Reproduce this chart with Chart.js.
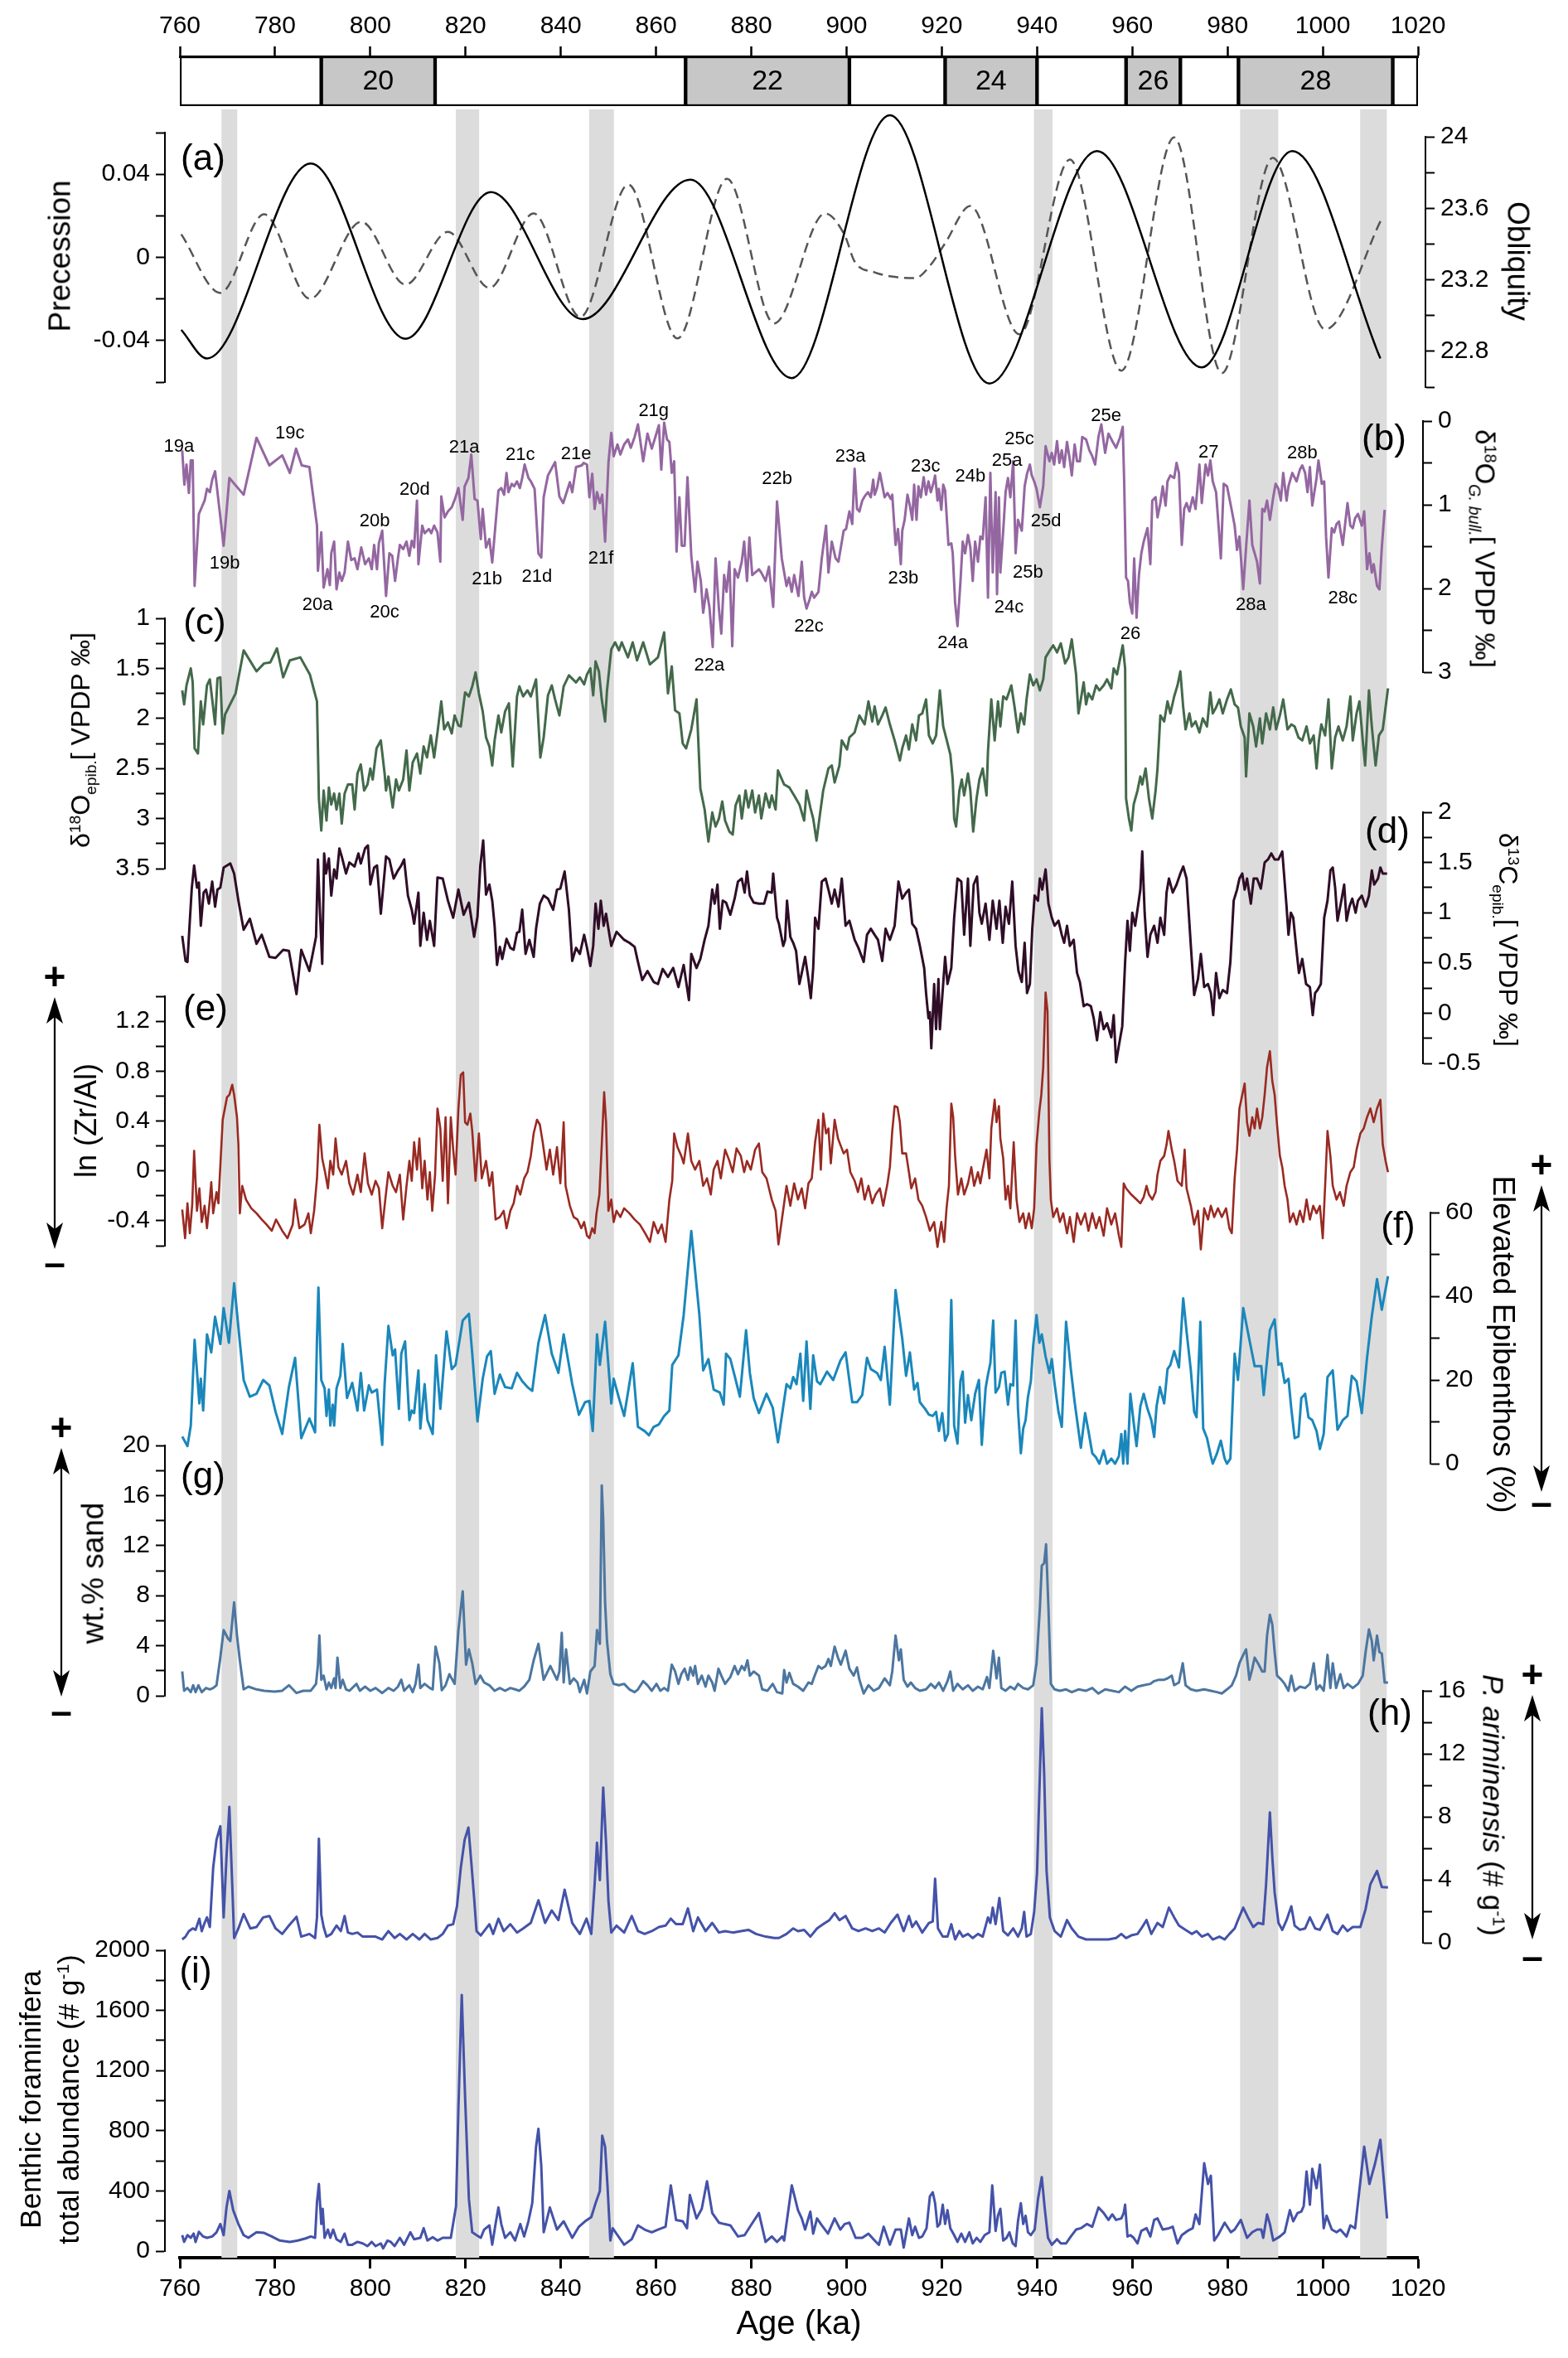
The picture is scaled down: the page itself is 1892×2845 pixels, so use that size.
<!DOCTYPE html>
<html><head><meta charset="utf-8">
<script src="https://cdn.jsdelivr.net/npm/chart.js"></script>
<style>
body{margin:0;background:#fff;}
#wrap{position:relative;width:1892px;height:2845px;overflow:hidden;background:#fff;font-family:'Liberation Sans',Arial,Helvetica,sans-serif;}
.t{position:absolute;white-space:nowrap;color:#000;line-height:1;}
.t sup{font-size:0.6em;vertical-align:0.55em;line-height:0;}
.t sub{font-size:0.6em;vertical-align:-0.4em;line-height:0;}
svg{position:absolute;left:0;top:0;}
</style></head>
<body><div id="wrap"></div>
<script>
// ---------------- DATA ----------------
const ageTicks = [760,780,800,820,840,860,880,900,920,940,960,980,1000,1020];
const ageLabels = ['760','780','800','820','840','860','880','900','920','940','960','980','1000','1020'];
const misStart = [760,789.7,813.6,866.2,900.6,920.7,940.0,958.7,970.1,982.3,1014.7];
const misEnd   = [789.7,813.6,866.2,900.6,920.7,940.0,958.7,970.1,982.3,1014.7,1020];
const misLabel = ['','20','','22','','24','','26','','28',''];
const bandStart = [768.8,818.0,846.0,939.4,982.7,1007.9];
const bandEnd   = [772.0,822.8,851.1,943.2,990.6,1013.4];

const precession = [[760.3,0.0111],[768.5,-0.0171],[777.7,0.0207],[787.3,-0.0199],[798.1,0.0171],[807.4,-0.0131],[816.3,0.0123],[825.0,-0.0147],[834.3,0.0211],[844.1,-0.0287],[854.2,0.0350],[864.5,-0.0390],[874.9,0.0378],[884.8,-0.0318],[895.5,0.0211],[899.6,0.0107],[901.7,-0.002],[905.9,-0.0072],[910.1,-0.0094],[914.4,-0.0100],[917.5,-0.0041],[920.7,0.0068],[926.0,0.0247],[936.3,-0.0370],[946.9,0.0470],[957.7,-0.0545],[968.8,0.0577],[978.8,-0.0557],[989.5,0.0478],[1000.5,-0.0346],[1012.4,0.0187]];
const obliquity = [[760.3,22.92],[765.7,22.76],[787.5,23.85],[807.4,22.87],[825.3,23.69],[844.6,22.98],[867.2,23.76],[888.5,22.65],[909.1,24.12],[930.0,22.62],[952.6,23.92],[974.6,22.71],[993.6,23.92],[1012.1,22.76]];

const seriesB = [[760.5,0.35],[760.95,0.76],[761.4,0.52],[761.9,0.86],[762.3,0.47],[762.7,0.47],[763.1,1.97],[764.0,1.11],[764.6,1.03],[765.2,0.95],[765.7,0.81],[766.3,0.85],[766.8,0.70],[767.4,0.60],[769.2,1.49],[770.4,0.68],[773.4,0.88],[776.1,0.20],[778.8,0.53],[781.5,0.41],[783.1,0.62],[784.4,0.33],[785.6,0.53],[787.2,0.55],[788.8,1.25],[789.0,1.79],[789.7,1.33],[790.2,1.99],[791.0,1.77],[791.5,1.96],[791.8,1.58],[792.4,1.44],[792.9,2.01],[793.5,1.81],[794.0,1.91],[794.6,1.81],[795.3,1.44],[796.0,1.66],[796.7,1.64],[797.3,1.77],[798.1,1.51],[798.9,1.71],[799.7,1.64],[800.3,1.77],[800.8,1.48],[801.4,1.77],[801.8,1.46],[802.5,1.31],[803.3,2.09],[804.0,1.58],[804.6,1.61],[805.2,1.91],[805.8,1.64],[806.2,1.48],[806.9,1.53],[807.6,1.44],[808.2,1.61],[808.7,1.43],[809.2,1.51],[809.8,0.95],[810.1,1.71],[810.9,1.25],[811.4,1.34],[812.3,1.29],[812.8,1.34],[813.4,1.25],[814.1,1.33],[814.7,1.68],[814.9,0.90],[815.6,1.15],[816.3,1.08],[817.1,1.03],[817.9,0.91],[818.5,0.80],[819.4,1.18],[819.8,0.78],[820.6,0.68],[821.2,0.40],[821.9,0.93],[822.5,0.95],[823.2,1.41],[823.6,1.05],[824.3,1.51],[825.0,1.41],[825.6,1.69],[826.9,0.83],[827.5,0.80],[828.1,0.88],[828.6,0.62],[829.0,0.85],[829.7,0.75],[830.2,0.78],[830.8,0.72],[831.4,0.80],[831.9,0.68],[832.4,0.52],[833.2,0.68],[833.7,0.72],[834.5,0.81],[835.3,1.58],[835.9,1.63],[836.4,0.91],[837.3,0.65],[838.8,0.49],[839.7,0.90],[840.5,0.98],[841.9,0.73],[842.4,0.85],[843.2,0.55],[844.4,0.53],[844.8,0.50],[845.5,0.52],[846.0,0.91],[846.6,0.63],[847.1,1.05],[847.6,0.85],[848.2,0.98],[848.7,0.88],[849.3,1.44],[850.0,0.50],[850.6,0.14],[851.1,0.42],[851.9,0.28],[852.5,0.40],[853.3,0.28],[854.1,0.22],[854.7,0.32],[855.5,0.19],[856.2,0.04],[857.3,0.48],[858.2,0.15],[859.1,0.33],[859.8,0.20],[860.6,0.05],[861.1,0.58],[861.7,0.02],[862.3,0.22],[862.8,0.25],[863.3,0.62],[863.8,0.48],[864.3,1.56],[864.9,0.91],[865.4,1.49],[866.0,1.49],[866.6,0.67],[867.4,1.61],[868.2,2.04],[868.7,1.68],[869.4,1.91],[869.9,2.29],[870.6,2.01],[871.2,2.22],[871.9,2.70],[872.5,1.64],[873.2,2.24],[873.7,2.54],[874.3,1.84],[874.8,2.04],[875.4,1.68],[876.0,2.69],[876.5,1.77],[877.2,1.87],[878.0,1.68],[878.5,1.44],[879.1,1.91],[879.6,1.39],[880.2,1.84],[880.8,1.81],[881.6,1.77],[882.1,1.81],[883.0,1.91],[883.7,1.74],[884.6,2.22],[885.4,0.96],[886.4,1.64],[887.4,1.97],[887.9,1.87],[888.5,2.04],[889.0,1.84],[889.9,2.09],[890.6,1.68],[891.1,2.11],[891.6,2.24],[892.2,2.14],[892.7,2.04],[893.2,2.11],[894.1,2.04],[894.8,1.64],[895.7,1.25],[896.2,1.81],[896.9,1.44],[897.7,1.64],[898.3,1.68],[899.4,1.31],[899.9,1.29],[900.6,1.08],[901.2,1.23],[901.7,0.57],[902.2,1.05],[902.7,1.08],[903.3,0.95],[903.8,0.90],[904.5,0.85],[905.1,0.91],[905.6,0.70],[905.9,0.88],[906.4,0.80],[907.0,0.62],[908.0,0.91],[908.6,0.86],[909.3,0.93],[909.6,0.88],[910.3,1.48],[910.8,1.29],[911.4,1.71],[911.7,1.31],[912.2,1.18],[912.8,0.88],[913.3,1.01],[913.8,1.18],[914.2,0.76],[914.7,1.18],[915.1,0.78],[915.6,0.91],[916.2,0.67],[916.7,0.88],[917.2,0.72],[917.7,0.85],[918.2,0.75],[918.6,0.65],[919.1,0.95],[919.4,0.81],[919.9,1.06],[920.3,0.76],[920.7,0.83],[921.4,1.48],[922.0,1.46],[922.3,1.58],[922.8,2.17],[923.3,2.45],[923.9,1.94],[924.4,1.44],[924.9,1.58],[925.5,1.36],[926.0,1.51],[926.5,1.91],[927.0,1.44],[927.6,1.68],[928.1,1.38],[928.6,1.41],[929.2,0.91],[929.7,2.11],[930.2,0.62],[930.7,1.81],[931.3,0.85],[931.6,2.07],[932.0,0.91],[932.3,1.81],[932.9,1.31],[933.4,0.85],[933.9,0.68],[934.4,0.91],[935.0,0.48],[935.5,1.58],[936.0,1.18],[936.8,1.31],[937.4,0.78],[937.9,0.63],[938.5,0.52],[938.9,0.65],[939.4,0.72],[939.9,0.81],[940.6,1.03],[941.3,0.78],[941.8,0.30],[942.6,0.48],[943.1,0.38],[943.6,0.52],[944.2,0.24],[944.7,0.50],[945.2,0.35],[945.7,0.55],[946.3,0.25],[946.8,0.43],[947.3,0.65],[947.9,0.28],[948.4,0.48],[949.0,0.48],[949.5,0.19],[950.3,0.22],[951.0,0.35],[951.6,0.42],[952.2,0.52],[952.9,0.19],[953.5,0.04],[954.3,0.38],[955.0,0.15],[955.9,0.25],[956.6,0.32],[957.4,0.20],[958.0,0.07],[958.3,0.72],[958.7,1.87],[959.1,1.91],[959.5,2.17],[960.0,2.30],[960.4,1.64],[960.9,2.35],[961.4,1.84],[961.9,1.58],[962.4,1.44],[963.2,1.28],[963.8,1.71],[964.2,0.95],[964.9,0.91],[965.3,1.15],[965.9,0.98],[966.4,0.78],[967.0,1.01],[967.4,0.72],[968.0,0.65],[968.8,0.68],[969.3,0.50],[969.8,0.62],[970.4,1.48],[970.9,1.05],[971.4,0.98],[972.0,1.08],[972.7,0.91],[973.3,1.05],[974.1,0.52],[974.6,0.98],[975.1,0.68],[975.4,0.52],[975.9,0.65],[976.4,0.47],[976.9,0.72],[977.6,0.85],[978.2,1.31],[978.6,1.64],[979.2,0.75],[979.9,0.78],[980.7,1.01],[981.5,1.25],[982.0,1.54],[982.5,1.38],[983.3,2.01],[983.9,1.51],[984.6,0.95],[985.2,1.48],[985.7,1.58],[986.2,1.68],[986.8,1.94],[987.3,1.05],[987.8,1.08],[988.3,0.95],[988.9,1.18],[989.6,0.91],[990.1,0.75],[990.7,0.81],[991.2,0.95],[991.7,0.62],[992.4,0.95],[992.8,0.78],[993.6,0.62],[994.5,0.72],[995.2,0.58],[995.7,0.53],[996.3,0.62],[996.8,0.85],[997.3,0.55],[997.8,1.01],[998.7,0.68],[999.1,0.47],[999.8,0.75],[1000.3,0.72],[1000.7,1.38],[1001.2,1.87],[1001.9,1.28],[1002.4,1.33],[1002.9,1.23],[1003.4,1.20],[1004.2,1.48],[1005.2,0.98],[1005.8,1.25],[1006.3,1.28],[1006.8,1.16],[1007.4,1.11],[1008.2,1.25],[1008.7,1.08],[1009.3,1.77],[1009.8,1.58],[1010.3,1.81],[1010.7,1.71],[1011.4,1.97],[1011.9,2.01],[1012.4,1.51],[1013.0,1.06]];

const bPeakNames = ['19a','19b','19c','20a','20b','20c','20d','21a','21b','21c','21d','21e','21f','21g','22a','22b','22c','23a','23b','23c','24a','24b','24c','25a','25b','25c','25d','25e','26','27','28a','28b','28c'];
const bPeakAge = [759.8,769.4,783.1,788.9,800.9,803.0,809.3,819.7,824.5,831.5,835.0,843.2,848.4,859.5,871.2,885.4,892.1,900.8,911.9,916.6,922.3,926.0,934.1,933.7,938.1,936.3,941.9,954.5,959.6,976.0,984.9,995.7,1004.2];
const bPeakVal = [0.31,1.70,0.15,2.20,1.20,2.29,0.82,0.32,1.89,0.41,1.86,0.40,1.64,-0.12,2.92,0.69,2.45,0.43,1.88,0.54,2.65,0.66,2.23,0.47,1.81,0.22,1.20,-0.06,2.54,0.38,2.20,0.39,2.12];

const seriesC = [[760.5,1.72],[760.9,1.86],[761.4,1.67],[762.3,1.50],[762.7,1.64],[763.1,2.30],[763.8,2.35],[764.4,1.83],[764.9,2.06],[765.7,1.67],[766.3,1.61],[766.8,1.81],[767.4,2.06],[767.9,1.60],[768.5,1.59],[769.0,2.15],[769.5,1.96],[771.7,1.75],[773.4,1.32],[776.1,1.53],[777.7,1.45],[779.0,1.44],[780.4,1.30],[781.7,1.59],[783.1,1.42],[785.3,1.39],[787.3,1.56],[788.8,1.83],[789.2,2.80],[789.7,3.12],[790.2,2.72],[790.8,3.02],[791.3,2.69],[791.8,2.86],[792.4,2.75],[792.9,2.91],[793.5,2.75],[794.0,3.05],[794.6,2.75],[795.3,2.66],[796.2,2.66],[796.7,2.91],[797.3,2.55],[798.0,2.46],[798.7,2.72],[799.4,2.66],[800.0,2.50],[800.5,2.61],[801.3,2.30],[802.2,2.22],[803.0,2.55],[803.3,2.72],[803.8,2.58],[804.7,2.89],[805.4,2.61],[806.0,2.72],[806.9,2.61],[807.6,2.32],[808.2,2.72],[808.9,2.44],[809.8,2.35],[810.5,2.55],[811.2,2.28],[811.9,2.39],[812.7,2.17],[813.4,2.39],[814.1,2.14],[814.9,1.83],[815.5,2.11],[816.3,2.04],[817.1,2.15],[817.7,1.97],[818.5,2.07],[819.0,2.08],[819.9,1.74],[820.7,1.78],[821.4,1.68],[822.1,1.54],[822.8,1.75],[823.6,1.93],[824.3,2.19],[825.0,2.28],[825.6,2.47],[826.1,2.22],[826.9,1.97],[827.5,2.14],[828.3,1.93],[829.1,1.85],[829.9,2.48],[830.8,1.78],[831.3,1.68],[832.1,1.78],[833.0,1.72],[833.7,1.78],[834.8,1.61],[835.7,2.39],[836.4,2.19],[837.3,1.77],[838.1,1.67],[838.8,1.81],[839.7,1.97],[840.6,1.68],[841.7,1.57],[843.2,1.64],[844.0,1.59],[844.9,1.66],[845.5,1.56],[846.2,1.50],[846.8,1.77],[847.3,1.43],[848.0,1.53],[848.6,1.81],[849.3,2.03],[849.7,1.72],[850.6,1.31],[851.4,1.24],[852.2,1.32],[852.8,1.24],[854.1,1.39],[855.1,1.24],[856.0,1.42],[857.3,1.24],[858.7,1.46],[860.4,1.39],[861.7,1.14],[862.5,1.75],[863.3,1.48],[864.0,1.92],[864.9,1.95],[865.6,2.25],[866.3,2.30],[867.4,2.11],[868.5,1.81],[869.3,2.70],[870.2,2.91],[871.0,3.23],[871.8,2.94],[872.5,3.08],[873.2,3.00],[873.9,2.83],[874.5,3.02],[875.4,3.13],[876.1,3.16],[876.7,2.87],[877.5,2.77],[878.0,3.00],[878.8,2.72],[879.4,2.89],[880.2,2.72],[880.8,2.94],[881.6,2.77],[882.1,3.00],[883.0,2.75],[883.8,2.89],[884.3,2.77],[885.1,2.91],[885.6,2.52],[886.9,2.66],[888.0,2.69],[889.0,2.77],[890.1,2.86],[891.1,3.02],[891.6,2.72],[892.4,2.89],[893.0,3.00],[893.7,3.22],[894.3,3.00],[895.1,2.72],[896.2,2.50],[896.9,2.47],[897.5,2.64],[898.5,2.47],[899.0,2.22],[900.1,2.31],[900.6,2.19],[901.7,2.14],[902.7,1.97],[903.8,2.06],[904.6,1.83],[905.4,2.03],[905.9,1.88],[906.6,2.06],[907.5,1.97],[908.2,1.89],[909.1,2.06],[910.1,2.22],[911.2,2.42],[911.7,2.30],[912.5,2.17],[913.1,2.31],[913.8,2.06],[914.6,2.22],[915.2,1.97],[915.9,1.95],[916.7,1.81],[917.3,2.17],[918.1,2.25],[918.8,2.17],[919.6,1.72],[920.3,2.08],[920.9,2.19],[921.8,2.36],[922.3,2.61],[922.6,3.00],[923.0,3.08],[923.7,2.72],[924.2,2.61],[924.7,2.77],[925.5,2.55],[926.0,2.72],[926.6,3.13],[927.3,2.80],[927.9,2.61],[928.6,2.50],[929.4,2.77],[929.7,2.33],[930.4,1.81],[931.1,2.22],[931.8,1.83],[932.3,2.08],[932.9,1.78],[933.6,1.81],[934.6,1.67],[935.3,1.89],[936.0,2.14],[936.6,1.95],[937.3,2.06],[937.8,1.81],[938.5,1.56],[939.2,1.67],[939.9,1.61],[940.6,1.72],[941.3,1.61],[941.8,1.39],[942.7,1.32],[943.4,1.27],[944.2,1.34],[945.0,1.25],[945.9,1.45],[946.6,1.39],[947.3,1.21],[948.2,1.56],[948.7,1.95],[949.2,1.81],[949.8,1.64],[950.3,1.86],[950.8,1.75],[951.6,1.81],[952.4,1.67],[953.1,1.72],[954.0,1.67],[954.7,1.61],[955.6,1.70],[956.1,1.50],[956.8,1.56],[957.5,1.39],[958.0,1.27],[958.5,1.50],[958.7,2.80],[959.3,3.00],[959.8,3.12],[960.3,2.86],[961.1,2.72],[961.7,2.58],[962.1,2.66],[962.8,2.50],[963.5,2.80],[964.2,3.00],[964.9,2.72],[965.3,2.50],[965.9,1.97],[966.7,2.03],[967.4,1.83],[968.0,1.95],[968.8,1.78],[969.5,1.67],[970.1,1.53],[970.7,1.89],[971.2,2.11],[972.0,1.95],[972.5,2.08],[973.3,2.03],[974.1,2.14],[974.8,2.00],[975.7,2.08],[976.4,1.74],[976.9,1.95],[977.6,1.89],[978.3,1.81],[979.0,1.95],[979.9,1.81],[980.7,1.71],[981.5,1.86],[982.2,1.89],[982.8,2.08],[983.6,2.19],[983.9,2.58],[984.6,1.95],[985.4,2.08],[986.0,2.28],[986.8,2.00],[987.3,2.25],[988.1,1.95],[988.9,2.11],[989.6,1.89],[990.2,2.11],[991.0,1.97],[991.7,1.81],[992.6,2.11],[993.4,2.06],[994.1,2.08],[994.9,2.19],[995.7,2.22],[996.6,2.08],[997.3,2.25],[998.1,2.17],[998.7,2.50],[999.2,2.22],[999.7,2.06],[1000.5,2.17],[1001.2,1.81],[1001.9,2.50],[1002.6,2.19],[1003.3,2.08],[1004.2,2.22],[1005.0,2.08],[1005.8,1.78],[1006.3,2.22],[1007.1,1.95],[1007.7,1.83],[1008.4,2.22],[1008.9,2.47],[1009.7,1.72],[1010.3,2.08],[1011.1,2.47],[1011.8,2.17],[1012.6,2.11],[1013.7,1.70]];

const seriesD = [[760.5,0.77],[761.2,0.52],[761.6,0.51],[762.0,0.84],[762.5,1.24],[763.0,1.47],[763.6,1.25],[764.0,1.30],[764.4,0.87],[765.0,1.20],[765.5,1.23],[766.1,1.09],[766.8,1.31],[767.4,1.06],[767.9,1.23],[768.5,1.25],[769.2,1.45],[770.6,1.49],[771.4,1.39],[772.3,1.12],[773.4,0.83],[774.7,0.94],[776.1,0.69],[777.2,0.78],[778.8,0.56],[780.1,0.55],[781.7,0.63],[782.9,0.62],[784.5,0.19],[785.5,0.63],[787.2,0.42],[788.6,0.76],[789.0,1.53],[789.4,1.03],[789.9,0.49],[790.3,1.59],[790.7,1.39],[791.3,1.54],[791.8,1.17],[792.4,1.43],[792.9,1.34],[793.5,1.64],[794.0,1.56],[794.9,1.39],[795.6,1.50],[796.7,1.46],[797.5,1.59],[798.0,1.49],[798.9,1.64],[799.5,1.67],[800.0,1.28],[800.8,1.45],[801.4,1.47],[802.2,0.99],[803.3,1.56],[804.0,1.53],[804.9,1.34],[805.8,1.42],[806.5,1.47],[807.1,1.53],[807.9,1.17],[808.7,1.03],[809.2,0.89],[810.1,1.20],[810.5,0.67],[811.2,1.00],[811.9,0.73],[812.5,0.92],[813.4,0.67],[814.1,1.35],[815.2,1.34],[816.3,1.12],[817.4,0.95],[818.5,1.23],[819.6,0.98],[820.7,1.10],[821.8,0.76],[822.5,0.96],[823.1,1.47],[823.7,1.72],[824.3,1.18],[825.0,1.28],[825.6,1.12],[826.1,0.87],[826.6,0.48],[827.2,0.66],[827.7,0.54],[828.6,0.74],[829.4,0.65],[830.1,0.63],[830.8,0.80],[831.3,0.81],[831.9,1.03],[832.6,0.59],[833.4,0.73],[834.3,0.56],[834.8,0.84],[835.6,1.09],[836.4,1.17],[837.3,1.14],[838.4,1.03],[839.2,1.23],[839.9,1.24],[840.8,1.41],[841.7,1.03],[842.4,0.52],[843.2,0.65],[844.0,0.59],[844.9,0.78],[845.5,0.65],[846.2,0.47],[846.8,0.67],[847.3,1.09],[847.9,0.84],[848.4,1.12],[849.0,0.87],[849.5,0.99],[850.0,0.84],[850.6,0.67],[851.7,0.81],[853.3,0.73],[854.4,0.70],[855.5,0.66],[856.2,0.51],[857.1,0.33],[858.2,0.42],[859.5,0.31],[860.4,0.29],[861.4,0.44],[862.5,0.36],[863.6,0.45],[864.7,0.26],[865.8,0.48],[866.9,0.13],[867.4,0.59],[868.5,0.45],[869.3,0.54],[870.2,0.73],[871.0,0.87],[871.8,1.23],[872.3,1.09],[872.9,1.28],[873.4,0.84],[874.0,1.12],[874.7,1.10],[875.6,0.98],[876.5,1.14],[877.2,1.31],[878.0,1.34],[878.6,1.20],[879.1,1.41],[879.7,1.17],[880.5,1.10],[881.6,1.09],[882.7,1.09],[883.4,1.21],[884.3,1.20],[884.6,1.39],[885.4,0.95],[885.8,0.89],[886.7,0.67],[887.1,0.73],[887.5,1.12],[888.2,0.76],[888.8,0.70],[889.4,0.62],[890.1,0.29],[890.6,0.40],[891.3,0.56],[892.0,0.34],[892.5,0.15],[893.0,0.45],[893.4,0.95],[894.1,0.84],[894.8,1.31],[895.6,1.34],[896.2,1.23],[896.9,1.09],[897.5,1.23],[898.3,1.06],[899.0,1.34],[899.8,0.87],[900.6,0.92],[901.7,0.73],[902.5,0.65],[903.6,0.51],[904.3,0.78],[905.1,0.84],[905.9,0.78],[906.6,0.73],[907.5,0.52],[908.2,0.84],[909.1,0.73],[910.1,0.87],[910.9,1.31],[911.7,1.14],[912.5,1.20],[913.1,1.23],[913.8,0.89],[914.6,0.84],[915.4,0.67],[916.3,0.45],[916.7,0.20],[917.2,-0.05],[917.5,0.01],[917.8,-0.35],[918.4,0.29],[918.8,-0.16],[919.3,0.34],[919.6,-0.16],[920.2,0.23],[920.7,0.56],[921.2,0.29],[922.0,0.45],[922.6,0.95],[923.3,1.34],[924.1,1.31],[924.7,0.78],[925.5,1.34],[926.0,0.67],[926.7,1.28],[927.4,1.36],[927.9,1.00],[928.4,0.89],[929.2,1.09],[930.0,0.73],[930.7,1.12],[931.5,0.84],[932.1,1.12],[932.8,0.70],[933.4,1.06],[934.1,0.89],[934.8,1.31],[935.5,0.67],[936.1,0.42],[936.8,0.31],[937.4,0.70],[937.9,0.20],[938.5,0.29],[939.0,0.84],[939.5,1.17],[940.2,1.12],[940.6,1.34],[941.1,1.23],[941.8,1.43],[942.4,1.09],[943.1,0.95],[943.7,0.87],[944.5,0.92],[945.2,0.78],[945.7,0.70],[946.3,0.87],[946.9,0.67],[947.7,0.73],[948.4,0.40],[949.0,0.31],[949.8,0.07],[950.5,0.09],[951.3,0.07],[951.9,-0.05],[952.6,-0.27],[953.3,0.01],[954.0,-0.16],[954.7,-0.10],[955.6,-0.24],[956.1,-0.02],[956.6,-0.49],[957.2,-0.32],[957.9,-0.13],[958.5,0.51],[959.0,0.92],[959.5,0.62],[960.0,1.00],[960.6,0.87],[961.1,1.03],[961.7,1.23],[962.1,1.61],[962.6,1.00],[963.2,0.56],[963.8,0.78],[964.6,0.87],[965.3,0.70],[965.9,0.95],[966.7,0.78],[967.2,1.20],[967.7,1.34],[968.5,1.20],[969.3,1.28],[970.1,1.39],[970.7,1.46],[971.4,1.34],[972.3,0.67],[973.0,0.18],[973.8,0.34],[974.4,0.59],[975.1,0.26],[975.9,0.29],[976.5,0.20],[977.0,-0.02],[977.6,0.40],[978.3,0.15],[979.0,0.23],[979.9,0.20],[980.6,0.51],[981.3,1.12],[982.0,1.23],[982.5,1.34],[983.1,1.39],[983.6,1.23],[984.1,1.34],[984.9,1.09],[985.5,1.34],[986.2,1.34],[987.0,1.24],[987.8,1.50],[988.5,1.53],[989.2,1.59],[989.9,1.53],[990.7,1.53],[991.5,1.61],[992.4,1.06],[992.8,0.78],[993.3,1.00],[993.8,0.95],[994.5,0.62],[995.0,0.40],[995.7,0.54],[996.5,0.29],[997.3,0.26],[997.9,-0.02],[998.4,0.20],[998.9,0.23],[999.6,0.29],[1000.3,0.95],[1001.0,1.12],[1001.6,1.42],[1002.1,1.45],[1002.6,1.25],[1003.1,0.92],[1003.9,1.12],[1004.5,1.28],[1005.0,0.92],[1005.6,1.06],[1006.2,1.14],[1006.9,1.00],[1007.4,1.12],[1008.2,1.17],[1009.0,1.06],[1009.7,1.17],[1010.3,1.42],[1010.8,1.28],[1011.6,1.34],[1012.1,1.45],[1012.6,1.39],[1013.5,1.39]];

const seriesE = [[760.5,-0.31],[761.1,-0.54],[761.6,-0.26],[762.1,-0.50],[762.6,-0.27],[763.0,0.16],[763.6,-0.32],[764.1,-0.14],[764.6,-0.41],[765.2,-0.28],[765.7,-0.46],[766.3,-0.23],[766.6,-0.09],[767.0,-0.34],[767.7,-0.17],[768.1,-0.26],[769.0,0.41],[769.9,0.59],[770.4,0.61],[771.0,0.69],[771.4,0.61],[772.0,0.43],[772.3,0.21],[772.6,-0.34],[773.1,-0.12],[773.9,-0.23],[775.0,-0.30],[776.1,-0.34],[777.2,-0.39],[778.2,-0.43],[779.3,-0.48],[780.2,-0.39],[781.5,-0.48],[782.6,-0.54],[783.7,-0.43],[784.2,-0.23],[785.1,-0.46],[786.2,-0.43],[787.0,-0.34],[787.5,-0.50],[788.2,-0.32],[788.8,-0.06],[789.3,0.37],[789.9,0.10],[790.5,-0.01],[791.1,-0.14],[791.6,0.08],[792.2,-0.03],[792.7,0.26],[793.3,0.03],[794.0,-0.03],[794.9,0.08],[795.6,-0.10],[796.4,-0.19],[797.3,-0.03],[798.0,-0.17],[798.8,0.14],[799.5,-0.10],[800.3,-0.19],[801.1,-0.08],[801.8,-0.14],[802.5,-0.46],[803.2,-0.21],[803.8,-0.01],[804.7,-0.12],[805.4,-0.17],[806.2,-0.03],[806.9,-0.39],[807.6,-0.12],[808.2,0.08],[808.7,-0.08],[809.2,0.23],[809.8,0.01],[810.3,0.26],[810.9,-0.14],[811.4,0.08],[812.0,-0.23],[812.5,-0.01],[813.0,-0.32],[813.6,-0.03],[814.1,0.50],[814.7,0.34],[815.2,-0.08],[815.8,0.43],[816.3,-0.26],[816.9,0.43],[817.4,0.17],[817.9,-0.03],[818.5,0.50],[819.0,0.77],[819.5,0.79],[819.9,0.39],[820.4,0.37],[821.0,0.46],[821.4,0.32],[822.1,-0.08],[822.8,0.30],[823.4,-0.06],[824.3,0.08],[825.0,-0.12],[825.6,-0.01],[826.3,-0.39],[827.2,-0.37],[828.0,-0.32],[828.6,-0.46],[829.4,-0.32],[830.1,-0.26],[830.8,-0.12],[831.5,-0.19],[832.3,-0.06],[833.0,-0.01],[833.7,0.12],[834.3,0.30],[835.0,0.41],[835.6,0.37],[836.2,0.23],[837.0,0.01],[837.7,0.17],[838.4,-0.03],[839.2,0.19],[839.9,-0.10],[840.6,0.39],[841.0,-0.12],[841.9,-0.28],[842.7,-0.37],[843.5,-0.39],[844.3,-0.46],[844.9,-0.41],[845.5,-0.52],[846.0,-0.54],[846.6,-0.46],[847.1,-0.50],[847.5,-0.34],[848.1,-0.19],[848.6,0.21],[849.1,0.63],[849.5,0.39],[850.0,-0.32],[850.6,-0.23],[851.1,-0.41],[851.7,-0.32],[852.5,-0.37],[853.3,-0.30],[854.4,-0.34],[855.5,-0.39],[856.6,-0.43],[857.7,-0.50],[858.7,-0.57],[859.5,-0.41],[860.4,-0.50],[861.2,-0.43],[862.0,-0.57],[862.8,-0.23],[863.4,-0.08],[863.8,0.30],[864.5,0.19],[865.3,0.12],[865.8,0.06],[866.7,0.30],[867.4,0.08],[868.2,0.01],[869.1,0.08],[869.9,-0.12],[870.7,-0.06],[871.5,-0.19],[872.1,0.01],[872.9,0.08],[873.6,-0.06],[874.5,0.17],[875.4,0.08],[876.1,-0.01],[876.9,0.18],[877.8,0.12],[878.5,-0.01],[879.1,0.08],[879.9,0.01],[880.8,0.17],[881.6,0.22],[882.3,-0.01],[883.2,-0.06],[884.3,-0.23],[885.1,-0.32],[885.7,-0.59],[887.4,-0.12],[888.2,-0.28],[889.0,-0.10],[889.8,-0.23],[890.6,-0.14],[891.3,-0.30],[892.0,-0.10],[892.7,-0.06],[893.4,0.23],[894.1,0.41],[894.6,0.01],[895.1,0.46],[895.7,0.30],[896.2,0.34],[896.7,0.06],[897.5,0.41],[898.2,0.26],[898.7,0.21],[899.4,0.14],[900.1,0.17],[900.8,-0.01],[901.7,-0.08],[902.4,-0.17],[903.1,-0.06],[903.8,-0.23],[904.6,-0.12],[905.4,-0.26],[906.1,-0.19],[907.0,-0.14],[907.7,-0.28],[908.6,-0.10],[909.1,0.03],[909.6,0.32],[910.1,0.52],[910.7,0.51],[911.2,0.39],[911.7,0.14],[912.5,0.14],[913.1,-0.01],[913.6,-0.14],[914.4,-0.06],[915.1,-0.23],[915.9,-0.28],[916.7,-0.37],[917.5,-0.48],[918.4,-0.41],[919.1,-0.61],[919.9,-0.41],[920.5,-0.57],[921.0,-0.30],[921.5,-0.12],[922.0,0.54],[922.4,0.43],[922.8,0.12],[923.4,-0.19],[924.1,-0.06],[924.7,-0.19],[925.5,-0.10],[926.2,0.03],[926.8,-0.12],[927.6,-0.01],[928.1,-0.10],[928.6,0.01],[929.4,0.17],[930.0,-0.06],[930.4,0.34],[931.1,0.57],[931.5,0.39],[932.0,0.52],[932.3,0.26],[932.9,0.10],[933.4,-0.23],[933.9,-0.12],[934.4,-0.30],[935.1,0.23],[935.7,-0.23],[936.3,-0.41],[937.1,-0.34],[937.6,-0.46],[938.3,-0.34],[938.9,-0.46],[939.4,-0.30],[939.9,0.21],[940.5,0.48],[940.9,0.61],[941.3,0.83],[941.8,1.43],[942.2,1.28],[942.6,0.10],[942.9,-0.23],[943.4,-0.37],[944.2,-0.30],[944.8,-0.41],[945.5,-0.34],[946.3,-0.50],[946.9,-0.37],[947.7,-0.57],[948.4,-0.34],[949.2,-0.43],[950.1,-0.34],[950.8,-0.48],[951.6,-0.34],[952.4,-0.46],[953.1,-0.37],[954.0,-0.52],[954.7,-0.30],[955.6,-0.43],[956.4,-0.34],[957.2,-0.52],[957.7,-0.61],[958.2,-0.10],[958.7,-0.14],[959.8,-0.19],[960.9,-0.23],[961.7,-0.26],[962.4,-0.21],[963.0,-0.12],[963.5,-0.19],[964.2,-0.23],[964.9,-0.17],[965.3,-0.03],[965.9,0.08],[966.7,0.12],[967.2,0.21],[967.6,0.32],[968.3,0.17],[968.8,0.08],[969.5,-0.08],[970.4,-0.12],[971.0,0.17],[971.4,-0.14],[972.3,-0.28],[973.0,-0.43],[973.8,-0.32],[974.4,-0.63],[975.1,-0.30],[975.9,-0.39],[976.5,-0.28],[977.2,-0.37],[978.0,-0.30],[978.8,-0.37],[979.7,-0.30],[980.4,-0.46],[980.9,-0.50],[981.5,-0.06],[982.0,0.17],[982.5,0.50],[983.1,0.61],[983.6,0.70],[984.1,0.39],[984.6,0.28],[985.2,0.43],[985.7,0.34],[986.2,0.50],[986.8,0.34],[987.3,0.43],[987.8,0.61],[988.3,0.83],[988.9,0.96],[989.4,0.72],[989.9,0.61],[990.4,0.37],[991.0,0.12],[991.5,0.03],[992.0,-0.12],[992.6,-0.23],[993.1,-0.41],[993.8,-0.34],[994.5,-0.43],[995.2,-0.32],[995.9,-0.41],[996.6,-0.23],[997.3,-0.39],[998.0,-0.28],[998.7,-0.34],[999.4,-0.28],[1000.0,-0.54],[1000.5,-0.12],[1001.0,0.32],[1001.6,0.12],[1002.1,-0.12],[1002.9,-0.23],[1003.6,-0.17],[1004.4,-0.28],[1005.0,-0.12],[1005.8,-0.01],[1006.5,0.03],[1007.1,0.17],[1007.9,0.30],[1008.6,0.34],[1009.3,0.43],[1010.0,0.50],[1010.7,0.39],[1011.4,0.50],[1012.1,0.57],[1012.6,0.21],[1013.2,0.08],[1013.7,-0.01]];

const seriesF = [[760.5,6.5],[761.6,4.2],[762.3,9.1],[763.1,29.6],[764.1,14.4],[764.4,20.3],[764.9,12.7],[765.7,30.9],[766.6,26.6],[767.4,35.1],[768.5,28.6],[769.2,37.2],[770.3,28.9],[771.4,43.1],[772.5,30.2],[773.4,20.0],[774.7,16.0],[776.1,16.7],[777.5,20.0],[778.8,18.7],[780.1,12.4],[781.5,7.1],[782.9,18.3],[784.2,25.3],[785.5,6.1],[787.2,10.8],[788.4,7.5],[788.8,29.9],[789.1,42.1],[789.7,20.0],[790.4,18.0],[790.8,11.4],[791.3,17.7],[791.6,9.1],[792.1,14.1],[792.4,9.1],[792.9,18.0],[793.7,21.0],[794.2,28.6],[795.1,15.7],[796.2,19.3],[797.3,12.7],[798.0,21.7],[798.7,12.7],[799.7,18.7],[800.3,17.0],[801.4,17.7],[802.5,4.5],[803.0,19.0],[803.8,32.9],[804.7,25.9],[805.2,27.3],[806.0,13.1],[806.5,26.3],[807.3,29.2],[808.2,10.4],[808.7,12.7],[809.2,12.1],[810.1,22.3],[810.5,8.4],[811.4,19.0],[812.0,10.4],[813.1,7.1],[813.8,25.9],[814.7,13.1],[816.0,31.6],[817.1,22.6],[817.9,23.6],[819.4,34.2],[820.7,35.8],[821.4,26.3],[822.5,10.1],[823.6,20.3],[824.5,25.6],[825.3,26.9],[826.1,16.7],[827.2,21.3],[828.3,18.3],[829.7,18.0],[830.8,21.7],[831.9,19.7],[833.0,18.3],[834.0,17.4],[835.3,28.9],[836.7,35.5],[838.1,26.3],[839.5,21.7],[840.6,30.9],[842.4,19.0],[843.8,11.7],[845.1,14.7],[846.0,15.0],[846.7,7.8],[847.6,30.9],[848.2,23.6],[849.3,33.9],[850.6,14.4],[851.1,20.3],[852.2,15.7],[853.3,11.4],[855.1,24.0],[856.2,8.8],[857.6,7.8],[858.5,6.8],[859.5,8.8],[860.6,9.4],[861.7,11.4],[862.8,12.7],[863.4,23.6],[864.7,25.9],[865.8,35.5],[867.4,55.6],[869.1,35.5],[869.9,22.3],[871.0,25.0],[872.1,17.7],[873.4,17.0],[874.2,14.1],[874.7,26.3],[875.6,25.0],[876.5,21.0],[877.6,16.0],[878.9,31.9],[879.7,21.7],[880.5,15.7],[881.6,12.1],[883.2,16.7],[884.5,13.4],[885.6,5.1],[887.4,19.0],[888.2,18.0],[888.8,20.7],[889.5,19.0],[890.3,26.3],[890.9,15.0],[891.6,29.2],[892.4,13.1],[893.0,25.9],[893.8,19.7],[894.5,19.0],[895.9,22.0],[897.2,20.0],[898.7,24.6],[899.8,26.6],[901.2,14.7],[902.2,14.7],[903.3,16.4],[904.3,25.3],[905.1,22.6],[906.4,21.7],[907.2,20.0],[908.0,27.9],[909.1,14.1],[910.3,41.5],[911.7,29.9],[912.5,21.0],[913.3,26.6],[914.2,17.7],[914.9,19.3],[915.4,14.7],[916.5,13.1],[917.3,11.7],[918.1,11.4],[918.8,12.4],[919.4,7.8],[920.1,12.1],[920.7,5.5],[921.3,7.1],[922.0,39.1],[922.6,9.1],[923.3,4.8],[923.9,19.7],[924.4,22.0],[924.9,9.8],[925.5,16.4],[926.2,10.4],[927.0,16.7],[927.8,20.0],[928.4,4.5],[929.2,18.0],[929.7,21.3],[930.2,24.0],[930.8,34.2],[931.3,17.0],[932.0,18.3],[932.5,21.7],[933.2,22.0],[933.9,14.1],[934.4,19.0],[935.0,18.7],[935.5,34.2],[936.0,13.1],[936.6,2.5],[937.1,8.4],[937.6,10.4],[938.1,16.0],[938.7,19.7],[939.2,28.3],[939.9,35.5],[940.5,28.9],[941.0,30.9],[941.8,25.6],[942.6,21.7],[943.1,25.0],[943.7,19.0],[944.5,12.4],[945.2,8.8],[946.1,33.9],[947.1,22.6],[947.9,14.7],[949.2,3.8],[950.1,12.1],[950.8,7.8],[951.6,2.5],[952.4,1.5],[953.1,0],[954.0,3.2],[954.7,0],[955.6,1.2],[956.4,0],[957.2,1.8],[957.7,7.1],[958.1,0],[958.5,7.8],[959.0,0],[959.6,16.7],[960.3,9.8],[960.9,4.2],[961.7,13.7],[962.4,16.7],[963.2,13.1],[964.0,10.4],[964.6,6.4],[965.1,13.7],[965.8,18.3],[966.7,14.4],[967.4,22.6],[968.0,23.6],[968.8,26.9],[969.8,23.0],[970.7,39.5],[971.4,31.6],[972.3,22.3],[973.0,12.4],[973.5,11.1],[974.3,33.9],[974.9,8.4],[975.7,6.1],[976.5,1.8],[976.9,0],[977.8,2.5],[978.6,5.5],[979.4,1.2],[979.9,0],[980.6,1.2],[981.5,26.3],[982.2,20.0],[983.3,37.2],[984.6,29.6],[985.7,23.3],[987.1,23.3],[987.6,16.4],[988.9,31.9],[989.9,34.5],[990.7,23.6],[991.3,24.0],[992.0,19.3],[992.8,20.3],[993.4,13.1],[994.1,6.1],[994.9,6.5],[995.5,15.7],[996.3,16.7],[997.0,11.1],[997.8,10.4],[998.7,7.8],[999.4,3.5],[1000.2,7.1],[1001.0,20.7],[1002.1,22.3],[1003.1,8.1],[1004.2,10.4],[1005.2,11.4],[1006.1,21.0],[1007.1,19.7],[1008.2,12.1],[1009.3,25.3],[1010.3,35.2],[1011.4,44.1],[1012.4,36.8],[1013.7,44.8]];

const seriesG = [[760.5,1.94],[760.9,0.40],[761.6,0.62],[762.3,0.29],[762.8,0.84],[763.3,0.29],[763.9,0.84],[764.6,0.29],[765.5,0.62],[766.3,0.51],[767.0,0.62],[767.7,0.84],[768.5,3.05],[769.2,5.25],[770.1,4.59],[770.6,4.37],[771.4,7.46],[772.0,4.81],[772.6,2.83],[773.4,0.51],[774.4,0.73],[776.1,0.51],[777.7,0.40],[779.9,0.33],[781.5,0.40],[782.9,0.84],[784.5,0.22],[785.9,0.40],[787.5,0.40],[788.6,0.95],[789.0,2.49],[789.3,4.81],[789.7,1.28],[790.2,1.61],[790.8,0.51],[791.3,1.06],[791.8,0.62],[792.4,1.39],[792.7,0.62],[793.1,3.05],[793.7,0.62],[794.2,1.28],[794.9,0.51],[795.6,0.40],[797.1,0.95],[797.8,0.40],[798.9,0.73],[800.0,0.40],[801.1,0.62],[802.5,0.22],[803.8,0.62],[804.9,0.40],[805.8,0.73],[806.5,1.28],[807.1,0.40],[808.2,0.84],[808.9,0.29],[809.5,0.95],[810.1,2.49],[810.5,0.62],[811.4,0.95],[812.5,0.62],[813.1,0.51],[813.7,3.93],[814.5,2.60],[815.0,0.44],[815.8,0.84],[816.6,1.72],[817.7,0.95],[818.5,5.25],[819.4,8.34],[819.8,5.03],[820.1,2.49],[820.7,3.71],[821.4,2.60],[822.1,0.95],[823.1,1.61],[823.9,1.06],[825.0,0.84],[826.1,0.40],[827.2,0.62],[828.3,0.40],[829.4,0.62],[830.4,0.51],[831.3,0.40],[832.3,0.73],[833.4,1.28],[834.3,2.83],[835.3,4.15],[836.4,1.28],[837.8,2.38],[839.2,1.28],[839.7,1.94],[840.2,5.03],[840.6,1.06],[841.1,3.71],[841.9,0.95],[842.7,1.39],[843.5,1.06],[844.0,0.29],[844.9,1.28],[845.5,0.18],[846.2,1.94],[847.1,2.38],[847.6,5.25],[848.2,4.15],[848.6,16.8],[848.9,14.1],[849.3,7.46],[849.7,4.37],[850.4,1.72],[851.1,0.95],[852.2,0.84],[853.3,0.95],[854.4,0.51],[855.5,0.29],[856.2,0.51],[857.3,1.17],[858.2,0.84],[859.1,0.40],[860.1,0.95],[860.9,0.40],[861.7,0.62],[862.5,0.40],[863.3,2.49],[864.0,1.94],[864.7,0.95],[865.3,1.72],[866.0,2.16],[866.7,1.28],[867.2,2.27],[867.8,1.61],[868.2,2.38],[868.8,0.95],[869.6,1.61],[870.4,0.73],[871.0,1.61],[871.8,1.06],[872.3,0.40],[873.1,2.16],[873.7,1.61],[874.5,0.95],[875.6,1.50],[876.5,2.38],[877.2,1.72],[878.0,2.38],[878.6,2.05],[879.2,2.83],[879.7,1.61],[880.5,1.94],[881.6,1.61],[882.3,0.51],[883.4,0.40],[884.5,0.95],[885.4,0.29],[886.5,0.18],[886.9,2.05],[887.4,1.06],[888.0,1.83],[888.8,0.95],[889.8,0.73],[890.9,0.40],[892.0,1.06],[892.7,0.95],[893.2,1.50],[894.1,2.38],[894.8,2.16],[895.6,2.38],[896.2,2.94],[896.7,2.38],[897.5,3.93],[898.2,3.05],[898.8,2.49],[899.8,3.60],[900.6,2.16],[901.5,1.61],[902.2,2.27],[902.7,1.28],[903.6,0.18],[904.6,0.84],[905.7,0.40],[906.8,0.62],[908.0,1.39],[909.1,0.84],[909.6,1.94],[910.3,4.81],[911.0,2.83],[911.4,3.71],[912.0,1.28],[912.8,0.73],[913.5,1.06],[914.4,0.62],[915.4,0.40],[916.7,0.51],[917.7,0.95],[918.6,0.62],[919.4,1.06],[920.3,0.40],[921.2,1.17],[921.8,1.94],[922.4,0.40],[923.3,0.95],[924.4,0.51],[925.5,0.84],[926.5,0.40],[927.6,0.73],[928.6,0.51],[929.5,1.50],[930.0,0.62],[930.8,3.60],[931.5,1.39],[932.0,3.05],[932.5,0.62],[933.4,0.40],[934.4,0.73],[935.3,0.51],[936.0,0.95],[937.1,0.62],[938.1,0.51],[939.2,0.84],[939.9,2.60],[940.6,7.02],[941.0,10.4],[941.5,10.6],[941.9,12.1],[942.4,7.02],[942.9,0.95],[943.7,0.51],[944.8,0.40],[946.1,0.51],[947.3,0.29],[948.7,0.51],[950.3,0.40],[951.6,0.62],[952.9,0.18],[954.3,0.51],[955.8,0.40],[957.2,0.29],[958.5,0.73],[959.8,0.40],[961.1,0.73],[962.4,0.84],[963.8,0.95],[964.6,1.17],[965.6,1.28],[966.7,1.28],[967.4,1.39],[968.3,1.61],[968.8,0.84],[969.8,1.06],[970.6,2.60],[971.2,0.84],[972.3,0.51],[973.5,0.40],[975.1,0.51],[976.5,0.40],[977.8,0.29],[978.8,0.18],[979.9,0.51],[980.9,0.84],[981.8,1.61],[982.5,2.60],[983.3,3.27],[983.9,3.71],[984.6,1.28],[985.2,2.16],[985.7,3.05],[986.4,2.60],[987.3,1.94],[987.8,1.94],[988.3,4.81],[988.9,6.47],[989.4,5.70],[989.9,3.49],[990.4,1.61],[991.3,1.28],[992.0,0.95],[992.8,0.40],[993.4,1.61],[994.1,0.40],[995.2,0.73],[996.3,0.62],[997.3,0.95],[998.1,2.60],[998.7,0.51],[999.4,0.84],[1000.2,0.40],[1001.0,3.27],[1001.6,0.62],[1002.1,2.60],[1002.8,0.62],[1003.7,1.72],[1004.4,0.62],[1005.2,0.95],[1006.3,0.62],[1007.4,0.95],[1008.4,1.61],[1009.0,3.49],[1009.7,5.30],[1010.3,4.37],[1010.7,2.83],[1011.4,4.81],[1011.9,3.49],[1012.4,3.38],[1013.0,1.06],[1013.7,1.06]];

const seriesH = [[760.5,0.21],[761.2,0.39],[761.9,0.74],[762.7,0.91],[763.3,0.82],[764.1,1.53],[764.6,0.74],[765.2,1.26],[765.7,1.61],[766.3,1.0],[767.0,4.77],[767.7,6.53],[768.5,7.40],[769.2,1.61],[769.8,5.47],[770.4,8.63],[771.0,3.72],[771.4,0.30],[772.3,0.91],[773.4,1.82],[774.8,0.91],[776.1,1.0],[777.5,1.61],[778.8,1.70],[780.1,0.91],[781.5,0.56],[782.9,1.09],[784.5,1.65],[785.5,0.39],[787.2,0.56],[788.4,0.30],[788.8,1.61],[789.2,6.61],[789.7,1.79],[790.2,1.0],[790.8,0.39],[791.8,0.56],[792.9,1.09],[793.8,0.74],[794.6,1.70],[795.3,0.65],[796.2,0.56],[797.3,0.65],[798.4,0.39],[799.7,0.39],[801.1,0.39],[802.5,0.21],[803.8,0.74],[805.1,0.30],[806.2,0.56],[807.6,0.21],[808.9,0.56],[810.3,0.21],[811.4,0.56],[812.7,0.21],[814.1,0.30],[815.2,0.56],[816.3,1.09],[817.4,1.18],[818.2,2.32],[819.0,4.77],[819.8,6.53],[820.6,7.32],[821.2,5.12],[821.8,2.84],[822.3,0.74],[823.2,0.47],[823.9,0.74],[825.0,1.18],[825.8,0.56],[826.9,1.53],[828.0,0.74],[829.4,1.18],[830.8,0.65],[832.1,0.91],[833.7,1.26],[835.3,2.70],[836.7,1.26],[838.1,2.05],[839.5,1.44],[840.8,3.37],[842.4,1.26],[844.0,0.56],[845.4,1.53],[846.4,0.56],[847.1,3.72],[847.6,6.35],[848.2,3.98],[848.9,9.86],[849.5,6.35],[850.0,2.67],[850.6,0.65],[851.7,1.09],[853.3,0.65],[854.9,1.70],[856.2,0.74],[857.6,0.56],[859.1,0.74],[860.6,1.0],[862.0,1.09],[863.1,1.53],[864.2,1.18],[865.6,1.18],[866.7,2.18],[867.8,0.74],[868.8,1.61],[870.4,0.74],[871.8,1.26],[873.2,0.65],[874.5,0.74],[876.1,0.65],[877.8,0.74],[879.4,0.82],[881.0,0.56],[883.0,0.39],[884.8,0.30],[885.8,0.30],[887.4,0.56],[888.8,0.91],[889.8,0.74],[891.1,0.82],[892.4,0.39],[893.8,0.91],[895.1,1.18],[896.4,1.44],[897.5,1.88],[898.5,1.44],[899.8,1.70],[901.2,0.91],[902.5,0.74],[904.0,0.91],[905.4,0.74],[906.8,0.91],[908.0,0.65],[909.3,1.26],[910.7,1.79],[912.0,0.74],[913.1,1.70],[913.8,1.0],[914.6,1.35],[915.9,0.65],[917.3,1.26],[918.1,1.35],[918.6,4.07],[919.2,0.91],[920.2,0.39],[921.2,0.39],[922.0,1.18],[922.8,0.21],[923.7,0.74],[924.4,0.39],[925.5,0.56],[926.5,0.30],[927.6,0.56],[928.6,0.39],[929.7,1.61],[930.2,1.26],[930.7,2.23],[931.3,1.18],[932.1,2.84],[932.9,0.74],[933.9,0.47],[935.0,0.91],[936.0,0.39],[936.8,0.91],[937.3,1.96],[937.8,0.39],[938.7,0.56],[939.4,1.96],[940.0,4.42],[940.6,10.7],[941.0,14.9],[941.5,10.7],[942.0,4.60],[942.7,1.61],[943.7,0.74],[945.0,0.39],[946.3,1.44],[947.3,0.91],[948.7,0.39],[950.3,0.21],[951.9,0.21],[953.5,0.21],[955.0,0.21],[956.6,0.30],[957.7,0.56],[958.7,0.30],[959.8,0.47],[961.1,0.56],[961.9,0.91],[963.0,1.44],[964.0,0.56],[965.3,1.26],[966.4,1.0],[967.7,2.23],[968.8,1.61],[969.8,1.09],[971.2,0.82],[972.5,0.56],[973.5,0.74],[974.6,0.39],[975.9,0.56],[976.9,0.21],[978.3,0.39],[979.4,0.21],[980.4,0.56],[981.5,0.91],[982.2,1.44],[983.3,2.23],[984.3,1.61],[985.4,1.0],[986.4,1.26],[987.5,1.18],[988.1,3.72],[988.9,8.28],[989.4,5.47],[989.9,3.19],[990.7,1.26],[991.5,0.82],[992.4,1.44],[993.4,2.32],[994.1,1.09],[995.2,0.82],[996.3,0.91],[997.3,1.61],[998.4,0.91],[999.4,0.82],[1001.0,1.79],[1002.1,0.74],[1003.1,0.56],[1004.2,1.09],[1005.2,0.74],[1006.3,1.0],[1007.9,1.0],[1009.0,2.14],[1010.0,3.72],[1011.4,4.56],[1012.4,3.54],[1013.7,3.51]];

const seriesI = [[760.5,106],[760.9,61],[761.6,106],[762.3,88],[762.9,116],[763.3,61],[764.0,128],[764.9,97],[765.7,88],[766.8,97],[767.7,125],[768.5,180],[769.2,106],[769.8,290],[770.4,400],[771.2,272],[772.3,180],[773.4,106],[774.4,88],[776.1,125],[777.7,121],[779.3,97],[781.0,70],[783.1,61],[784.8,70],[786.4,84],[787.5,97],[788.4,88],[788.8,327],[789.2,446],[789.7,180],[790.0,281],[790.4,88],[791.1,143],[791.6,88],[792.2,143],[792.9,79],[793.8,61],[794.6,116],[795.3,42],[796.2,42],[797.3,61],[798.4,51],[799.4,33],[800.3,61],[801.1,33],[802.2,51],[802.7,18],[803.6,70],[804.3,61],[805.1,33],[806.2,88],[807.1,42],[808.4,125],[809.2,79],[810.5,88],[811.2,152],[812.0,70],[813.1,92],[814.1,70],[815.2,88],[816.9,88],[818.0,299],[818.5,951],[819.2,1703],[819.9,1024],[820.7,345],[821.4,125],[822.3,106],[823.2,88],[823.9,143],[825.0,171],[825.6,42],[826.3,180],[826.9,290],[827.5,180],[828.3,88],[829.4,125],[830.4,70],[831.5,180],[832.3,97],[833.2,198],[834.0,318],[834.8,694],[835.3,813],[835.9,565],[836.4,125],[837.7,290],[839.2,143],[840.6,198],[842.4,88],[843.8,162],[845.1,198],[846.4,226],[847.3,318],[848.2,400],[848.7,767],[849.3,694],[849.8,437],[850.4,70],[850.9,152],[851.9,106],[853.3,42],[854.9,79],[856.2,171],[857.6,143],[859.1,125],[860.4,143],[862.0,162],[863.1,437],[864.2,207],[865.6,198],[866.5,152],[867.1,373],[868.5,217],[869.6,281],[870.7,464],[871.8,253],[873.2,189],[874.3,180],[875.6,171],[877.2,97],[878.6,106],[879.9,171],[881.6,253],[883.0,61],[884.3,97],[885.4,61],[886.5,97],[886.9,70],[888.5,437],[889.8,272],[890.6,217],[891.3,143],[892.4,262],[893.0,116],[893.8,217],[894.8,171],[896.1,116],[897.5,217],[898.7,143],[899.6,180],[900.6,189],[901.9,88],[903.3,88],[904.6,116],[905.9,70],[906.8,42],[907.8,162],[909.1,42],[910.3,143],[911.4,143],[912.0,24],[913.1,217],[913.8,106],[914.4,162],[915.2,88],[915.9,97],[916.8,152],[917.5,363],[918.1,391],[918.6,318],[919.1,162],[919.6,180],[920.2,308],[920.7,180],[921.2,272],[921.8,152],[922.6,106],[923.3,61],[924.1,116],[924.9,61],[925.8,125],[926.5,51],[927.3,88],[928.1,61],[929.0,106],[930.0,125],[930.6,437],[931.3,134],[931.8,235],[932.3,281],[932.9,70],[933.6,88],[934.2,125],[934.9,51],[935.5,33],[936.0,198],[936.6,318],[937.1,180],[937.6,235],[938.1,125],[938.7,106],[939.5,143],[940.2,345],[941.0,492],[941.6,290],[942.3,88],[943.1,42],[944.2,79],[945.0,51],[946.1,51],[947.1,97],[948.2,143],[949.2,152],[950.5,180],[951.6,162],[952.9,290],[954.0,253],[955.0,207],[955.8,244],[956.6,207],[957.7,217],[958.2,253],[958.5,308],[959.0,97],[959.6,106],[960.3,88],[961.1,51],[961.9,134],[963.0,152],[963.8,97],[964.6,207],[965.3,217],[966.4,143],[967.7,152],[968.5,162],[969.5,51],[970.4,106],[971.6,134],[972.7,152],[973.3,244],[974.1,180],[975.1,584],[975.9,446],[976.5,501],[977.2,70],[978.0,106],[979.4,189],[980.7,125],[981.5,143],[982.8,207],[984.1,88],[985.2,125],[986.2,143],[987.1,143],[987.5,88],[988.3,244],[988.9,180],[989.6,70],[991.0,97],[992.0,125],[993.1,272],[993.8,198],[994.7,253],[995.5,262],[996.0,299],[996.6,529],[997.3,308],[997.8,547],[998.7,418],[999.4,575],[1000.2,152],[1000.8,235],[1001.9,143],[1002.9,125],[1003.7,143],[1005.0,97],[1005.8,171],[1006.8,152],[1007.9,464],[1008.7,694],[1009.8,446],[1011.0,584],[1012.1,740],[1013.5,217]];

// tick values and labels
const precTicks = [-0.06,-0.04,-0.02,0,0.02,0.04,0.06];
const precLabels = ['','-0.04','','0','','0.04',''];
const obTicks = [22.6,22.8,23.0,23.2,23.4,23.6,23.8,24.0];
const obLabels = ['','22.8','','23.2','','23.6','','24'];
const bTicks = [0,0.5,1,1.5,2,2.5,3];
const bLabels = ['0','','1','','2','','3'];
const cTicks = [1,1.25,1.5,1.75,2,2.25,2.5,2.75,3,3.25,3.5];
const cLabels = ['1','','1.5','','2','','2.5','','3','','3.5'];
const dTicks = [-0.5,-0.25,0,0.25,0.5,0.75,1,1.25,1.5,1.75,2];
const dLabels = ['-0.5','','0','','0.5','','1','','1.5','','2'];
const eTicks = [-0.6,-0.4,-0.2,0,0.2,0.4,0.6,0.8,1.0,1.2,1.4];
const eLabels = ['','-0.4','','0','','0.4','','0.8','','1.2',''];
const fTicks = [0,10,20,30,40,50,60];
const fLabels = ['0','','20','','40','','60'];
const gTicks = [0,2,4,6,8,10,12,14,16,18,20];
const gLabels = ['0','','4','','8','','12','','16','','20'];
const hTicks = [0,2,4,6,8,10,12,14,16];
const hLabels = ['0','','4','','8','','12','','16'];
const iTicks = [0,200,400,600,800,1000,1200,1400,1600,1800,2000];
const iLabels = ['0','','400','','800','','1200','','1600','','2000'];

// ---------------- RENDER ----------------
const FONT = "'Liberation Sans', Arial, Helvetica, sans-serif";
Chart.defaults.font.family = FONT;
Chart.defaults.color = '#000';
const wrap = document.getElementById('wrap');
const W = 1892, H = 2845;
const PX0 = 217, PX1 = 1711, KA0 = 760, KA1 = 1020;
const PPK = (PX1 - PX0) / (KA1 - KA0);
function xRange(L, R){ return {min: KA0 - (PX0 - L) / PPK, max: KA1 + (R - PX1) / PPK}; }
function makeCanvas(top, h){
  const c = document.createElement('canvas');
  c.width = W; c.height = h;
  c.style.cssText = `position:absolute;left:0;top:${top}px;width:${W}px;height:${h}px;`;
  wrap.appendChild(c);
  return c;
}
const basePlugins = {legend:{display:false}, tooltip:{enabled:false}};
function lineDs(pairs, color, width, extra){
  return Object.assign({data: pairs.map(p => ({x:p[0], y:p[1]})), borderColor: color, borderWidth: width,
    pointRadius: 0, tension: 0, fill: false, clip: false, borderJoinStyle: 'round'}, extra || {});
}
const ageTickCallback = (v, i) => ageLabels[i];

// background: shaded bands + bottom age axis
new Chart(makeCanvas(0, H), {
  type: 'bar',
  data: {labels: ['band'], datasets: [{
    data: bandStart.map((s, i) => ({x: [s, bandEnd[i]], y: 'band'})),
    backgroundColor: '#dcdcdc', borderWidth: 0, barPercentage: 1, categoryPercentage: 1
  }]},
  options: {
    indexAxis: 'y', responsive: false, animation: false, devicePixelRatio: 1, events: [],
    layout: {padding: {top: 132, left: PX0, right: W - PX1, bottom: 0}},
    plugins: basePlugins,
    scales: {
      x: {type: 'linear', position: 'bottom', min: KA0, max: KA1,
        afterFit: s => { s.height = 121; },
        afterBuildTicks: s => { s.ticks = ageTicks.map(v => ({value: v})); },
        ticks: {callback: ageTickCallback, font: {size: 30}, color: '#000', padding: 7, maxRotation: 0, autoSkip: false},
        grid: {drawOnChartArea: false, drawTicks: true, tickLength: 13, tickWidth: 3, tickColor: '#000'},
        border: {display: true, color: '#000', width: 4},
        title: {display: true, text: 'Age (ka)', font: {size: 40}, color: '#000', padding: {top: 0, bottom: 16}}
      },
      y: {type: 'category', display: false}
    }
  }
});

// MIS boxes + top axis
const misLabelPlugin = {id: 'misLabels', afterDatasetsDraw(chart){
  const ctx = chart.ctx, meta = chart.getDatasetMeta(0);
  ctx.save(); ctx.font = '34px ' + FONT; ctx.fillStyle = '#000'; ctx.textAlign = 'center'; ctx.textBaseline = 'middle';
  meta.data.forEach((el, i) => { if (misLabel[i]) { const p = el.getCenterPoint(); ctx.fillText(misLabel[i], p.x, p.y + 1); } });
  ctx.restore();
}};
new Chart(makeCanvas(0, 200), {
  type: 'bar',
  data: {labels: ['MIS'], datasets: [{
    data: misStart.map((s, i) => ({x: [s, misEnd[i]], y: 'MIS'})),
    backgroundColor: misLabel.map(l => l ? '#c6c7c6' : '#ffffff'),
    borderColor: '#000', borderWidth: 2.5, borderSkipped: false, barPercentage: 1, categoryPercentage: 1
  }]},
  options: {
    indexAxis: 'y', responsive: false, animation: false, devicePixelRatio: 1, events: [],
    layout: {padding: {top: 0, left: PX0, right: W - PX1, bottom: 72}},
    plugins: basePlugins,
    scales: {
      x: {type: 'linear', position: 'top', min: KA0, max: KA1,
        afterFit: s => { s.height = 68; },
        afterBuildTicks: s => { s.ticks = ageTicks.map(v => ({value: v})); },
        ticks: {callback: ageTickCallback, font: {size: 30}, color: '#000', padding: 6, maxRotation: 0, autoSkip: false},
        grid: {drawOnChartArea: false, drawTicks: true, tickLength: 12, tickWidth: 2.5, tickColor: '#000'},
        border: {display: true, color: '#000', width: 3}
      },
      y: {type: 'category', display: false}
    }
  },
  plugins: [misLabelPlugin]
});

// generic panel
function panel(p){
  const M = 80, AW = 130;
  const ct = Math.max(0, p.top - M), cb = Math.min(H, p.bottom + M);
  const cv = makeCanvas(ct, cb - ct);
  const L = p.side === 'left' ? p.axisX : 199;
  const R = p.side === 'right' ? p.axisX : 1726;
  const xr = xRange(L, R);
  return new Chart(cv, {
    type: 'line',
    data: {datasets: p.datasets},
    options: {
      responsive: false, animation: false, devicePixelRatio: 1, events: [],
      layout: {padding: {top: p.top - ct, bottom: cb - p.bottom,
        left: p.side === 'left' ? L - AW : L, right: p.side === 'right' ? W - R - AW : W - R}},
      plugins: basePlugins,
      scales: {
        x: {type: 'linear', display: false, min: xr.min, max: xr.max},
        y: {type: 'linear', position: p.side, min: p.min, max: p.max, reverse: !!p.reverse,
          afterFit: s => { s.width = AW; },
          afterBuildTicks: s => { s.ticks = p.ticks.map(v => ({value: v})); },
          ticks: {callback: (v, i) => p.labels[i], font: {size: 30}, color: '#000', padding: 7, autoSkip: false},
          grid: {display: true, drawOnChartArea: false, drawTicks: true, tickLength: 11, tickWidth: 2, tickColor: '#000'},
          border: {display: true, color: '#000', width: 2}
        }
      }
    },
    plugins: p.plugins || []
  });
}

const peakLabelPlugin = {id: 'peakLabels', afterDatasetsDraw(chart){
  const {ctx} = chart, x = chart.scales.x, y = chart.scales.y;
  ctx.save(); ctx.font = '22px ' + FONT; ctx.fillStyle = '#000'; ctx.textAlign = 'center'; ctx.textBaseline = 'middle';
  bPeakNames.forEach((t, i) => ctx.fillText(t, x.getPixelForValue(bPeakAge[i]), y.getPixelForValue(bPeakVal[i])));
  ctx.restore();
}};

panel({top:160, bottom:461, min:-0.06, max:0.06, side:'left', axisX:199, ticks:precTicks, labels:precLabels,
  datasets:[lineDs(precession, '#555555', 2.5, {borderDash:[12,7], cubicInterpolationMode:'monotone'})]});
panel({top:165, bottom:467, min:22.6, max:24.0, side:'right', axisX:1720, ticks:obTicks, labels:obLabels,
  datasets:[lineDs(obliquity, '#000000', 2.5, {cubicInterpolationMode:'monotone'})]});
panel({top:508, bottom:811, min:0, max:3, reverse:true, side:'right', axisX:1717, ticks:bTicks, labels:bLabels,
  datasets:[lineDs(seriesB, '#9467a1', 3)], plugins:[peakLabelPlugin]});
panel({top:746, bottom:1048, min:1, max:3.5, reverse:true, side:'left', axisX:199, ticks:cTicks, labels:cLabels,
  datasets:[lineDs(seriesC, '#43694a', 3)]});
panel({top:980, bottom:1283, min:-0.5, max:2, side:'right', axisX:1717, ticks:dTicks, labels:dLabels,
  datasets:[lineDs(seriesD, '#2f0d27', 3)]});
panel({top:1202, bottom:1503, min:-0.6, max:1.4, side:'left', axisX:199, ticks:eTicks, labels:eLabels,
  datasets:[lineDs(seriesE, '#992a22', 2.6)]});
panel({top:1463, bottom:1766, min:0, max:60, side:'right', axisX:1726, ticks:fTicks, labels:fLabels,
  datasets:[lineDs(seriesF, '#1a87bb', 3)]});
panel({top:1744, bottom:2046, min:0, max:20, side:'left', axisX:199, ticks:gTicks, labels:gLabels,
  datasets:[lineDs(seriesG, '#4c76a0', 3)]});
panel({top:2040, bottom:2344, min:0, max:16, side:'right', axisX:1717, ticks:hTicks, labels:hLabels,
  datasets:[lineDs(seriesH, '#4452a8', 3)]});
panel({top:2353, bottom:2716, min:0, max:2000, side:'left', axisX:199, ticks:iTicks, labels:iLabels,
  datasets:[lineDs(seriesI, '#4452a8', 3)]});

// ---------------- TEXT & ARROWS ----------------
function addText(html, cx, cy, size, rot, extra){
  const d = document.createElement('div');
  d.className = 't'; d.innerHTML = html;
  d.style.left = cx + 'px'; d.style.top = cy + 'px'; d.style.fontSize = size + 'px';
  d.style.transform = `translate(-50%,-50%) rotate(${rot || 0}deg)`;
  if (extra) d.style.cssText += extra;
  wrap.appendChild(d);
}
// panel letters
[['(a)',245,190],['(b)',1670,528],['(c)',247,750],['(d)',1674,1002],['(e)',248,1216],
 ['(f)',1687,1478],['(g)',245,1780],['(h)',1677,2066],['(i)',236,2377]].forEach(a => addText(a[0], a[1], a[2], 44, 0));
// axis titles
addText('Precession', 72, 309, 37, -90);
addText('Obliquity', 1832, 315, 37, 90);
addText('δ<sup>18</sup>O<sub><i>G. bull.</i></sub>[ VPDP ‰]', 1792, 662, 33, 90);
addText('δ<sup>18</sup>O<sub>epib.</sub>[ VPDP ‰]', 97, 893, 32, -90);
addText('δ<sup>13</sup>C<sub>epib.</sub>[ VPDP ‰]', 1820, 1134, 32, 90);
addText('ln (Zr/Al)', 104, 1352, 36, -90);
addText('Elevated Epibenthos (%)', 1814, 1622, 37, 90);
addText('wt.% sand', 112, 1898, 37, -90);
addText('<i>P. ariminensis</i> (# g<sup>-1</sup>)', 1802, 2178, 35, 90);
addText('Benthic foraminifera', 36, 2533, 35, -90);
addText('total abundance (# g<sup>-1</sup>)', 82, 2533, 35, -90);
// +/- signs
[[66,1178,1523],[1860,1405,1812],[74,1722,2064],[1849,2020,2360]].forEach(a => {
  addText('+', a[0], a[1], 46, 0, 'font-weight:bold;');
  addText('–', a[0], a[2], 46, 0, 'font-weight:bold;');
});
// double arrows
const NS = 'http://www.w3.org/2000/svg';
const svg = document.createElementNS(NS, 'svg');
svg.setAttribute('width', W); svg.setAttribute('height', H);
wrap.appendChild(svg);
function arrow(x, y1, y2){
  const ln = document.createElementNS(NS, 'line');
  ln.setAttribute('x1', x); ln.setAttribute('x2', x); ln.setAttribute('y1', y1 + 20); ln.setAttribute('y2', y2 - 20);
  ln.setAttribute('stroke', '#000'); ln.setAttribute('stroke-width', 2.2);
  svg.appendChild(ln);
  [[y1, 1], [y2, -1]].forEach(([t, d]) => {
    const pg = document.createElementNS(NS, 'polygon');
    pg.setAttribute('points', `${x},${t} ${x-10},${t+32*d} ${x},${t+24*d} ${x+10},${t+32*d}`);
    pg.setAttribute('fill', '#000');
    svg.appendChild(pg);
  });
}
arrow(66, 1203, 1507);
arrow(1860, 1430, 1800);
arrow(74, 1747, 2047);
arrow(1849, 2045, 2340);
</script>
</body></html>
